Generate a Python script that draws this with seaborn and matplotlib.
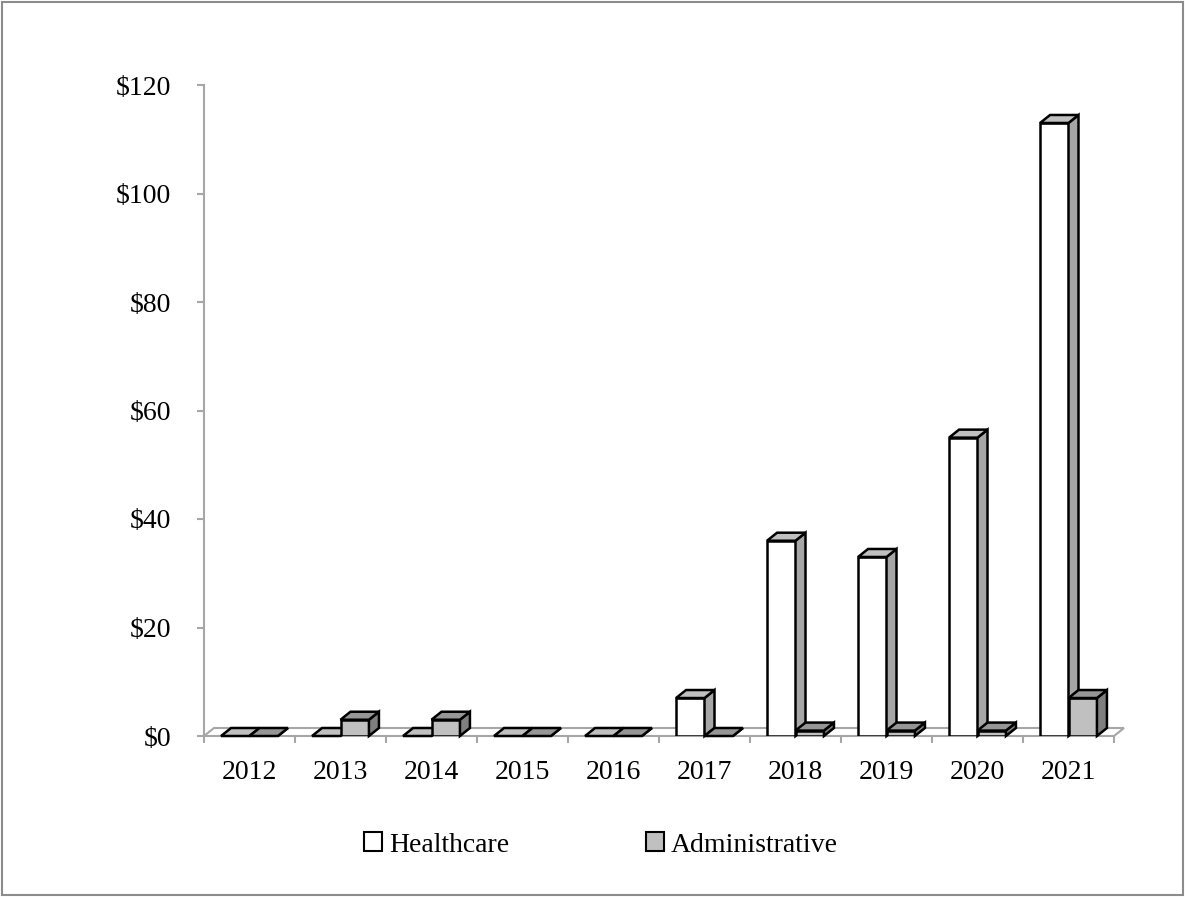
import numpy as np
import pandas as pd
import matplotlib
matplotlib.use("Agg")
import matplotlib.pyplot as plt
import seaborn as sns
from matplotlib.patches import Polygon, Patch, Rectangle
from matplotlib.ticker import FuncFormatter, FixedLocator

# ---- data ----
years = ["2012", "2013", "2014", "2015", "2016", "2017", "2018", "2019", "2020", "2021"]
healthcare = [0, 0, 0, 0, 0, 7, 36, 33, 55, 113]
administrative = [0, 3, 3, 0, 0, 0, 1, 1, 1, 7]
series = ["Healthcare", "Administrative"]
yticks = [0, 20, 40, 60, 80, 100, 120]

df = pd.DataFrame({
    "Year": years * 2,
    "Value": healthcare + administrative,
    "Series": [series[0]] * len(years) + [series[1]] * len(years),
})

sns.set_theme(style="white")
plt.rcParams["font.family"] = ["Liberation Serif", "DejaVu Serif"]
plt.rcParams["text.color"] = "black"

W, H = 1185, 897
FS = 20
fig = plt.figure(figsize=(W / 100, H / 100), dpi=100)
fig.patch.set_facecolor("white")
ax = fig.add_axes([204 / W, 1 - 736 / H, 910 / W, 651 / H])

front_col = {"Healthcare": "#ffffff", "Administrative": "#c0c0c0"}
top_col = {"Healthcare": "#c0c0c0", "Administrative": "#969696"}
side_col = {"Healthcare": "#a6a6a6", "Administrative": "#7f7f7f"}
EDGE_LW = 1.8
AXIS_GRAY = "#a6a6a6"

sns.barplot(data=df, x="Year", y="Value", hue="Series", hue_order=series,
            palette=front_col, width=0.625, edgecolor="black", linewidth=EDGE_LW,
            saturation=1, errorbar=None, legend=False, ax=ax)

ax.set_xlim(-0.5, len(years) - 0.5)
ax.set_ylim(0, 120)
ax.set_xlabel("")
ax.set_ylabel("")

# ---- pseudo-3D depth ----
dx, dy = 10, 8
inv = ax.transData.inverted()

# floor
xl, xr = ax.get_xlim()
fp = ax.transData.transform([(xl, 0), (xr, 0)])
floor = [tuple(fp[0]), tuple(fp[1]), (fp[1][0] + dx, fp[1][1] + dy), (fp[0][0] + dx, fp[0][1] + dy)]
ax.add_patch(Polygon(inv.transform(floor), closed=True, fc="white", ec=AXIS_GRAY,
                     lw=1.5, zorder=1, clip_on=False))

for name, cont, z in zip(series, ax.containers, [2, 3]):
    for bar in cont:
        bar.set_zorder(z)
        x0, w, h = bar.get_x(), bar.get_width(), bar.get_height()
        p = ax.transData.transform([(x0, 0), (x0 + w, 0), (x0 + w, h)])
        ax0, ay0 = p[0]
        ax1 = p[1][0]
        ay1 = p[2][1]
        side = [(ax1, ay0), (ax1 + dx, ay0 + dy), (ax1 + dx, ay1 + dy), (ax1, ay1)]
        top = [(ax0, ay1), (ax1, ay1), (ax1 + dx, ay1 + dy), (ax0 + dx, ay1 + dy)]
        for pts, c in ((side, side_col[name]), (top, top_col[name])):
            ax.add_patch(Polygon(inv.transform(pts), closed=True, fc=c, ec="black",
                                 lw=EDGE_LW, joinstyle="miter", zorder=z + 0.5, clip_on=False))

# ---- axes styling ----
for s in ["top", "right", "bottom"]:
    ax.spines[s].set_visible(False)
ax.spines["left"].set_color(AXIS_GRAY)
ax.spines["left"].set_linewidth(1.5)

ax.yaxis.set_major_locator(FixedLocator(yticks))
ax.yaxis.set_major_formatter(FuncFormatter(lambda v, p: f"${v:.0f}"))
ax.xaxis.set_minor_locator(FixedLocator(np.arange(-0.5, len(years), 1.0)))
ax.tick_params(axis="y", left=True, length=5, width=1.5, color=AXIS_GRAY,
               direction="out", pad=18.5, labelsize=FS, labelcolor="black")
ax.tick_params(axis="x", which="major", bottom=True, length=0, pad=17,
               labelsize=FS, labelcolor="black")
ax.tick_params(axis="x", which="minor", bottom=True, length=5, width=1.5,
               color=AXIS_GRAY, direction="out")

# ---- legend ----
handles = [Patch(fc=front_col[s], ec="black", lw=1.5) for s in series]
fig.legend(handles=handles, labels=series, loc="center",
           bbox_to_anchor=(601 / W, 1 - 845 / H), ncol=2, frameon=False,
           handlelength=0.65, handleheight=0.65, handletextpad=0.25,
           columnspacing=4.9, fontsize=FS, labelcolor="black")

# ---- figure border ----
fig.patches.append(Rectangle((0.0015, 0.002), 0.997, 0.996, transform=fig.transFigure,
                             fill=False, ec="#8c8c8c", lw=1.5))

fig.savefig("out.png", dpi=100, facecolor="white")
